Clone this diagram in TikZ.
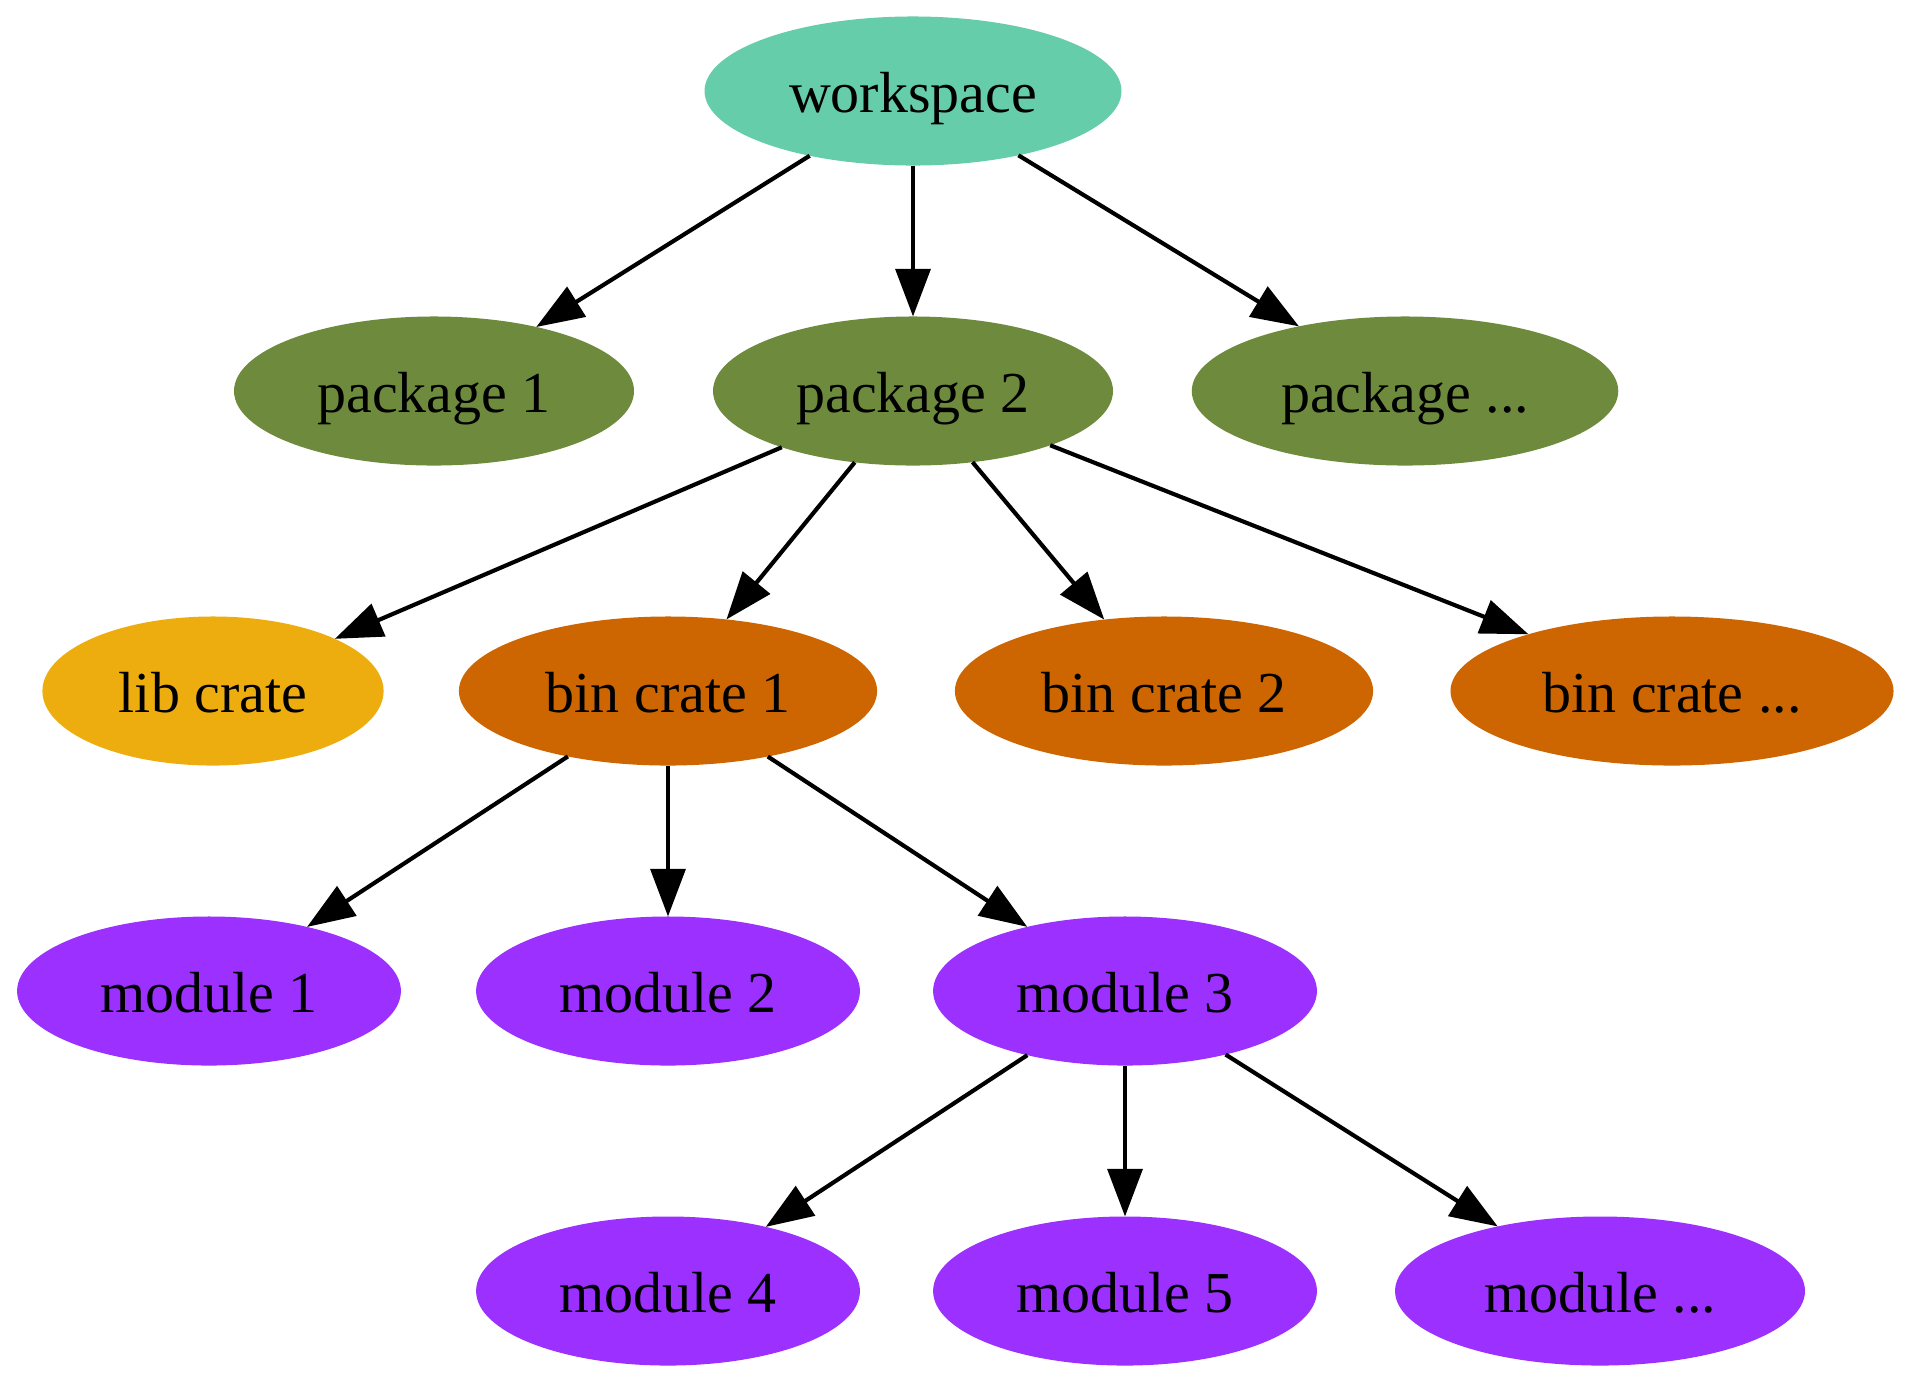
\documentclass[tikz,border=0pt]{standalone}
\usepackage{fontspec}
\setmainfont{Liberation Serif}
\usetikzlibrary{shapes.geometric,arrows.meta}
\definecolor{wscol}{RGB}{102,205,170}
\definecolor{pkgcol}{RGB}{110,139,61}
\definecolor{libcol}{RGB}{238,173,14}
\definecolor{bincol}{RGB}{205,102,0}
\definecolor{modcol}{RGB}{155,48,255}
\begin{document}
\begin{tikzpicture}[x=0.2415pt,y=-0.2415pt,
  blob/.style={ellipse,inner sep=0pt,outer sep=0pt,minimum height=36pt,
    text height=12.4pt,text depth=2pt,font=\fontsize{14pt}{16pt}\selectfont},
  link/.style={-{Triangle[length=11.5pt,width=8.4pt]},line width=1pt}]
\useasboundingbox (0,0) rectangle (1911,1383);
\node[blob,fill=wscol,minimum width=100.7pt] (ws) at (913,91) {workspace};
\node[blob,fill=pkgcol,minimum width=96.6pt] (p1) at (434,391) {package 1};
\node[blob,fill=pkgcol,minimum width=96.6pt] (p2) at (913,391) {package 2};
\node[blob,fill=pkgcol,minimum width=103pt] (pn) at (1405,391) {package ...};
\node[blob,fill=libcol,minimum width=82.4pt] (lib) at (213,691) {lib crate};
\node[blob,fill=bincol,minimum width=101pt] (b1) at (668,691) {bin crate 1};
\node[blob,fill=bincol,minimum width=101pt] (b2) at (1164,691) {bin crate 2};
\node[blob,fill=bincol,minimum width=107pt] (bn) at (1672,691) {bin crate ...};
\node[blob,fill=modcol,minimum width=92.7pt] (m1) at (209,991) {module 1};
\node[blob,fill=modcol,minimum width=92.7pt] (m2) at (668,991) {module 2};
\node[blob,fill=modcol,minimum width=92.7pt] (m3) at (1125,991) {module 3};
\node[blob,fill=modcol,minimum width=92.7pt] (m4) at (668,1291) {module 4};
\node[blob,fill=modcol,minimum width=92.7pt] (m5) at (1125,1291) {module 5};
\node[blob,fill=modcol,minimum width=99pt] (mn) at (1600,1291) {module ...};
\draw[link] (ws) -- (p1);
\draw[link] (ws) -- (p2);
\draw[link] (ws) -- (pn);
\draw[link] (p2) -- (lib);
\draw[link] (p2) -- (b1);
\draw[link] (p2) -- (b2);
\draw[link] (p2) -- (bn);
\draw[link] (b1) -- (m1);
\draw[link] (b1) -- (m2);
\draw[link] (b1) -- (m3);
\draw[link] (m3) -- (m4);
\draw[link] (m3) -- (m5);
\draw[link] (m3) -- (mn);
\end{tikzpicture}
\end{document}
